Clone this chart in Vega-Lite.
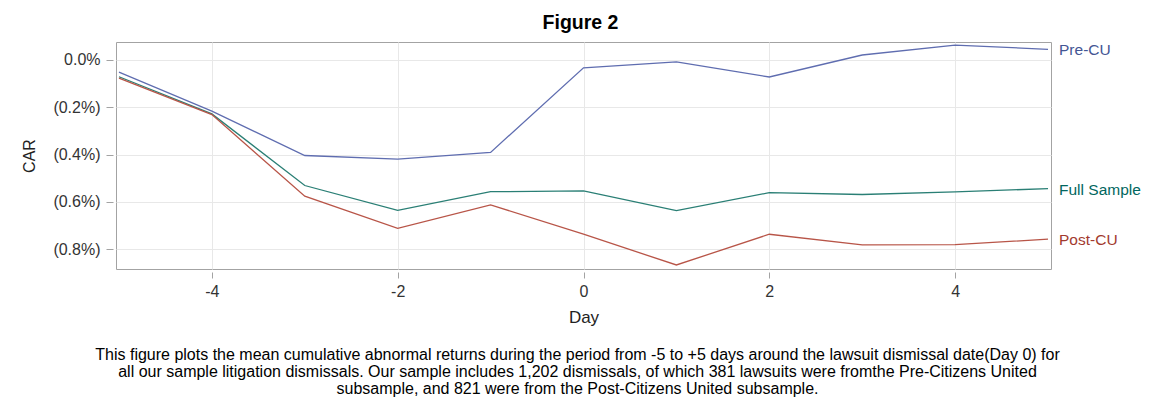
{
  "$schema": "https://vega.github.io/schema/vega-lite/v6.json",
  "width": 935,
  "height": 227,
  "autosize": {"type": "none"},
  "padding": {"left": 116, "top": 42, "right": 103, "bottom": 138},
  "background": "white",
  "config": {
    "font": "Liberation Sans",
    "view": {"stroke": "#A3A3A3", "strokeWidth": 1},
    "axis": {
      "labelFont": "Liberation Sans",
      "titleFont": "Liberation Sans",
      "labelFontSize": 16,
      "titleFontSize": 16,
      "labelColor": "#333333",
      "titleColor": "#222222",
      "titleFontWeight": "normal",
      "tickColor": "#A3A3A3",
      "gridColor": "#E8E8E8",
      "gridWidth": 1,
      "domain": false
    }
  },
  "title": {
    "text": [
      "This figure plots the mean cumulative abnormal returns during the period from -5 to +5 days around the lawsuit dismissal date(Day 0) for",
      "all our sample litigation dismissals. Our sample includes 1,202 dismissals, of which 381 lawsuits were fromthe Pre-Citizens United",
      "subsample, and 821 were from the Post-Citizens United subsample."
    ],
    "orient": "bottom",
    "anchor": "middle",
    "font": "Liberation Sans",
    "fontSize": 16,
    "fontWeight": "normal",
    "color": "#000000",
    "lineHeight": 17,
    "offset": 22,
    "dx": -6
  },
  "data": {
    "values": [
      {"day": -5, "series": "Pre-CU", "car": -0.051},
      {"day": -4, "series": "Pre-CU", "car": -0.216},
      {"day": -3, "series": "Pre-CU", "car": -0.404},
      {"day": -2, "series": "Pre-CU", "car": -0.419},
      {"day": -1, "series": "Pre-CU", "car": -0.391},
      {"day": 0, "series": "Pre-CU", "car": -0.033},
      {"day": 1, "series": "Pre-CU", "car": -0.008},
      {"day": 2, "series": "Pre-CU", "car": -0.072},
      {"day": 3, "series": "Pre-CU", "car": 0.021},
      {"day": 4, "series": "Pre-CU", "car": 0.063},
      {"day": 5, "series": "Pre-CU", "car": 0.045},
      {"day": -5, "series": "Full Sample", "car": -0.071},
      {"day": -4, "series": "Full Sample", "car": -0.228},
      {"day": -3, "series": "Full Sample", "car": -0.531},
      {"day": -2, "series": "Full Sample", "car": -0.636},
      {"day": -1, "series": "Full Sample", "car": -0.557},
      {"day": 0, "series": "Full Sample", "car": -0.554},
      {"day": 1, "series": "Full Sample", "car": -0.637},
      {"day": 2, "series": "Full Sample", "car": -0.561},
      {"day": 3, "series": "Full Sample", "car": -0.569},
      {"day": 4, "series": "Full Sample", "car": -0.558},
      {"day": 5, "series": "Full Sample", "car": -0.544},
      {"day": -5, "series": "Post-CU", "car": -0.077},
      {"day": -4, "series": "Post-CU", "car": -0.231},
      {"day": -3, "series": "Post-CU", "car": -0.576},
      {"day": -2, "series": "Post-CU", "car": -0.712},
      {"day": -1, "series": "Post-CU", "car": -0.613},
      {"day": 0, "series": "Post-CU", "car": -0.737},
      {"day": 1, "series": "Post-CU", "car": -0.867},
      {"day": 2, "series": "Post-CU", "car": -0.737},
      {"day": 3, "series": "Post-CU", "car": -0.782},
      {"day": 4, "series": "Post-CU", "car": -0.781},
      {"day": 5, "series": "Post-CU", "car": -0.758}
    ]
  },
  "layer": [
    {
      "mark": {"type": "line", "strokeWidth": 1.3},
      "encoding": {
        "x": {
          "field": "day",
          "type": "quantitative",
          "scale": {"domain": [-5.032, 5.032], "nice": false, "zero": false},
          "axis": {
            "orient": "bottom",
            "title": "Day",
            "values": [-4, -2, 0, 2, 4],
            "labelExpr": "datum.value < 0 ? '-' + format(-datum.value, 'd') : format(datum.value, 'd')",
            "offset": 3,
            "tickSize": 6,
            "labelPadding": 5,
            "titlePadding": 10,
            "titleFontSize": 17,
            "grid": true
          }
        },
        "y": {
          "field": "car",
          "type": "quantitative",
          "scale": {"domain": [-0.884, 0.076], "nice": false, "zero": false},
          "axis": {
            "title": "CAR",
            "values": [0, -0.2, -0.4, -0.6, -0.8],
            "labelExpr": "datum.value < -0.0001 ? '(' + format(-datum.value, '.1f') + '%)' : format(abs(datum.value), '.1f') + '%'",
            "offset": 3,
            "tickSize": 7,
            "labelPadding": 6,
            "titlePadding": 15,
            "grid": true
          }
        },
        "color": {
          "field": "series",
          "type": "nominal",
          "scale": {"domain": ["Pre-CU", "Full Sample", "Post-CU"], "range": ["#5f6db0", "#2a7f75", "#b85548"]},
          "legend": null
        },
        "detail": {"field": "series"}
      }
    },
    {
      "transform": [{"filter": "datum.day == 5"}],
      "mark": {"type": "text", "align": "left", "baseline": "middle", "dx": 11, "dy": 1, "fontSize": 15.5, "font": "Liberation Sans"},
      "encoding": {
        "x": {
          "field": "day",
          "type": "quantitative",
          "scale": {"domain": [-5.032, 5.032], "nice": false, "zero": false},
          "axis": {
            "orient": "top",
            "title": "Figure 2",
            "titleFontWeight": "bold",
            "titleFontSize": 19.5,
            "titleColor": "#000000",
            "labels": false,
            "ticks": false,
            "grid": false,
            "domain": false,
            "titlePadding": 10,
            "titleX": 464
          }
        },
        "y": {"field": "car", "type": "quantitative"},
        "text": {"field": "series"},
        "color": {
          "field": "series",
          "type": "nominal",
          "scale": {"domain": ["Pre-CU", "Full Sample", "Post-CU"], "range": ["#445694", "#01665E", "#A23A2E"]},
          "legend": null
        }
      }
    }
  ],
  "resolve": {"axis": {"x": "independent"}, "scale": {"color": "independent"}}
}
